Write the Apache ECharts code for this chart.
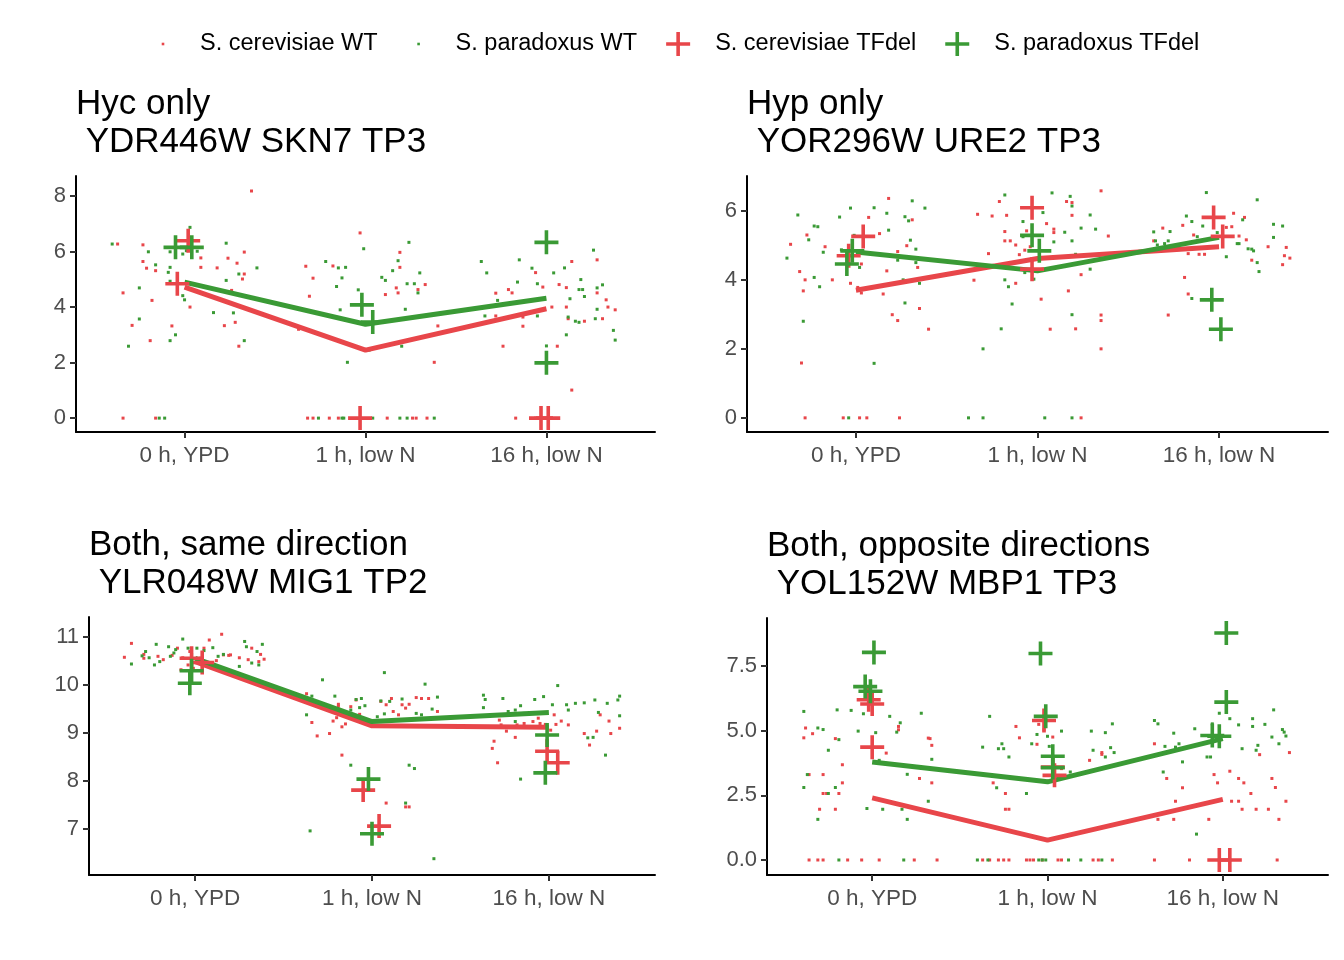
<!DOCTYPE html>
<html>
<head>
<meta charset="utf-8">
<script src="https://cdn.jsdelivr.net/npm/echarts@6/dist/echarts.min.js"></script>
<style>
html, body { margin: 0; padding: 0; background: #fff; }
#main { width: 1344px; height: 960px; }
</style>
</head>
<body>
<div id="main"></div>
<script>
var timepoints = ['0 h, YPD', '1 h, low N', '16 h, low N'];
var legendNames = ['S. cerevisiae WT', 'S. paradoxus WT', 'S. cerevisiae TFdel', 'S. paradoxus TFdel'];
var titles = ['Hyc only\n YDR446W SKN7 TP3', 'Hyp only\n YOR296W URE2 TP3',
	'Both, same direction\n YLR048W MIG1 TP2', 'Both, opposite directions\n YOL152W MBP1 TP3'];
var yTicks1 = [0, 2, 4, 6, 8];
var yTicks2 = [0, 2, 4, 6];
var yTicks3 = [7, 8, 9, 10, 11];
var yTicks4 = [0, 2.5, 5, 7.5];

// panel 1 : SKN7
var p1CerWT = [[0.63,6.27],[0.77,6.24],[1.37,8.18],[1.09,5.77],[0.77,5.64],[0.79,5.40],[0.84,5.31],[0.66,4.51],[0.82,4.24],[0.71,3.34],[0.93,3.32],[0.81,2.79],[1.03,4.00],[1.09,5.43],[1.18,5.41],[1.24,5.76],[1.29,5.58],[1.33,5.98],[1.32,5.01],[1.26,4.60],[1.22,3.33],[1.28,3.45],[1.30,2.59],[1.33,5.19],[0.66,0],[0.84,0],
	[1.67,5.47],[1.71,5.04],[1.69,4.39],[1.82,5.48],[1.97,6.67],[2.19,5.97],[2.19,5.43],[2.17,4.69],[2.18,4.51],[2.29,4.63],[2.33,4.81],[2.11,4.45],[2.38,2.01],[2.40,3.32],[1.63,3.20],[1.68,0],[1.71,0],[1.80,0],[1.85,0],[2.12,0],[2.26,0],[2.28,0],[2.34,0],
	[2.72,4.50],[2.79,4.63],[2.81,4.51],[2.87,3.64],[2.72,3.68],[2.87,3.31],[2.76,2.59],[2.94,5.24],[2.98,4.72],[3.03,4.00],[3.06,2.59],[3.07,4.81],[3.14,5.64],[3.11,4.70],[3.11,4.00],[3.12,3.58],[3.14,1.01],[3.28,5.70],[3.28,4.51],[3.21,3.49],[3.31,3.58],[3.33,4.26],[3.34,4.00],[3.38,3.90],[2.83,0],[2.94,0]];
var p1ParWT = [[0.60,6.27],[0.80,5.99],[0.92,5.99],[0.95,6.05],[0.84,5.52],[0.92,5.43],[0.91,5.25],[0.92,4.93],[0.99,5.91],[1.01,6.03],[1.07,6.01],[1.03,6.87],[1.23,6.30],[1.30,5.19],[1.40,5.41],[1.23,4.96],[0.75,4.69],[0.75,3.57],[0.69,2.59],[0.92,2.79],[0.95,3.00],[0.99,4.41],[1.00,4.26],[1.16,3.80],[1.27,3.79],[1.33,2.79],[0.89,0],[0.86,0],
	[1.78,5.64],[1.85,5.41],[1.89,5.43],[1.87,5.05],[1.84,4.74],[1.86,3.90],[1.96,4.62],[1.99,6.10],[2.02,2.45],[1.90,2.01],[2.09,5.07],[2.11,4.96],[2.15,5.31],[2.18,5.67],[2.24,6.33],[2.23,4.84],[2.27,4.84],[2.29,4.51],[2.30,5.23],[2.22,3.92],[2.20,2.59],[1.74,0],[1.87,0],[1.88,0],[2.04,0],[2.23,0],[2.19,0],[2.38,0],
	[2.64,5.64],[2.67,5.23],[2.66,3.68],[2.73,4.24],[2.85,5.70],[2.84,4.90],[2.92,5.40],[2.95,4.84],[2.95,3.68],[3.00,2.60],[3.04,5.23],[3.10,5.41],[3.11,3.00],[3.13,4.30],[3.19,4.99],[3.18,4.63],[3.20,4.63],[3.21,4.38],[3.26,6.05],[3.28,4.69],[3.31,4.80],[3.28,3.92],[3.27,3.58],[3.16,3.49],[3.18,3.45],[3.37,3.16],[3.38,2.81],[3.12,3.64]];
var p1CerDel = [[1.02,6.39],[0.96,4.84],[1.97,0],[2.97,0],[3.01,0]];
var p1ParDel = [[0.95,6.15],[1.04,6.15],[1.98,4.08],[2.04,3.46],[3.00,6.33],[3.00,1.99]];
var p1CerMean = [4.72, 2.45, 3.94];
var p1ParMean = [4.90, 3.38, 4.32];

// panel 2 : URE2
var p2CerWT = [[0.64,5.03],[0.73,5.30],[0.69,4.24],[0.71,3.68],[0.72,4.00],[0.70,1.59],[0.83,4.96],[0.87,4.00],[0.97,3.90],[1.01,3.78],[1.03,3.62],[1.03,4.46],[1.07,5.81],[1.13,5.34],[1.17,4.26],[1.18,6.36],[1.23,4.82],[1.23,2.82],[1.20,2.99],[1.31,5.74],[1.28,4.99],[1.34,4.36],[1.35,3.17],[1.40,2.57],[1.15,3.59],[0.72,0],[0.93,0],[1.02,0],[1.06,0],[1.24,0],
	[1.67,5.90],[1.75,5.85],[1.83,5.87],[1.79,6.27],[1.82,5.40],[1.82,5.13],[1.85,5.13],[1.88,5.01],[1.73,4.76],[1.65,3.99],[1.88,3.90],[1.90,4.73],[1.93,4.86],[1.94,5.42],[1.96,4.96],[2.05,5.63],[2.09,5.47],[2.09,5.37],[2.07,2.57],[2.02,3.44],[2.16,6.27],[2.19,5.87],[2.19,6.24],[2.24,4.15],[2.17,3.68],[2.21,2.58],[2.35,2.98],[2.35,2.82],[2.35,2.00],[2.35,6.58],[2.39,5.27],[2.24,0],
	[2.69,5.50],[2.72,2.98],[2.81,4.07],[2.83,3.59],[2.83,4.76],[2.86,5.30],[2.89,4.74],[2.92,4.74],[2.80,5.58],[3.04,5.52],[3.07,5.54],[3.08,5.93],[3.14,5.81],[3.11,5.27],[3.15,5.16],[3.18,4.57],[3.27,4.96],[3.37,4.94],[3.39,4.63],[3.36,4.70],[3.35,4.44],[2.64,5.13]];
var p2ParWT = [[0.62,4.63],[0.68,5.88],[0.71,2.80],[0.77,5.56],[0.79,5.54],[0.74,5.16],[0.77,4.07],[0.80,3.80],[0.82,4.80],[0.91,5.82],[0.92,4.87],[0.97,6.08],[0.99,5.29],[1.02,4.36],[1.10,6.09],[1.10,1.58],[1.17,5.93],[1.18,5.44],[1.23,4.57],[1.27,5.83],[1.31,6.29],[1.30,5.15],[1.29,5.71],[1.33,4.89],[1.38,6.08],[1.26,4.00],[1.27,3.33],[1.35,3.90],[1.33,4.50],[0.96,0],
	[1.82,6.46],[1.92,5.69],[1.92,5.25],[1.93,4.21],[1.82,4.00],[1.84,3.80],[1.86,3.30],[1.80,2.58],[1.70,2.00],[1.98,4.02],[2.03,5.95],[2.08,6.52],[2.09,5.10],[2.15,5.38],[2.18,6.42],[2.19,6.14],[2.19,5.13],[2.21,4.74],[2.24,5.50],[2.29,5.88],[2.32,5.47],[2.29,4.31],[2.19,2.99],[1.62,0],[1.70,0],[2.04,0],[2.19,0],
	[2.64,5.39],[2.65,5.13],[2.66,5.01],[2.70,5.05],[2.72,5.13],[2.73,5.40],[2.82,5.85],[2.85,5.69],[2.88,5.25],[2.91,5.56],[2.93,6.53],[2.85,3.46],[2.99,5.37],[3.04,4.67],[3.10,5.05],[3.11,5.05],[3.13,5.74],[3.16,4.90],[3.18,4.89],[3.19,4.84],[3.21,4.50],[3.21,6.32],[3.22,4.24],[3.30,5.61],[3.30,5.23],[3.35,5.56]];
var p2CerDel = [[1.04,5.26],[0.96,4.70],[1.97,6.09],[1.97,4.31],[2.97,5.81],[3.02,5.26]];
var p2ParDel = [[0.95,4.46],[0.98,4.84],[1.97,5.29],[2.01,4.84],[2.96,3.42],[3.01,2.57]];
var p2CerMean = [3.70, 4.62, 4.96];
var p2ParMean = [4.81, 4.26, 5.23];

// panel 3 : MIG1
var p3CerWT = [[0.60,10.58],[0.64,10.87],[0.71,10.64],[0.71,10.56],[0.79,10.60],[0.82,10.53],[0.87,10.62],[0.90,10.77],[0.93,10.57],[0.96,10.42],[0.97,10.70],[0.99,10.35],[1.03,10.56],[1.05,10.77],[1.08,10.94],[1.12,10.51],[1.15,11.06],[1.16,10.63],[1.19,10.62],[1.20,10.63],[1.25,10.57],[1.30,10.53],[1.32,10.77],[1.36,10.49],[1.37,10.64],[1.39,10.54],[0.92,10.32],
	[1.63,9.82],[1.66,9.22],[1.69,8.94],[1.76,8.99],[1.78,9.25],[1.80,9.32],[1.81,9.56],[1.81,9.60],[1.83,9.13],[1.85,9.19],[1.88,9.55],[1.91,9.69],[1.93,9.39],[1.83,8.54],[2.05,9.66],[2.08,9.59],[2.11,9.72],[2.12,9.45],[2.15,9.38],[2.17,9.59],[2.19,9.52],[2.21,9.60],[2.25,9.74],[2.28,9.72],[2.32,9.72],[2.37,9.45],[2.08,7.54],[2.19,7.46],[2.21,7.46],
	[2.68,9.38],[2.69,8.83],[2.68,8.68],[2.71,8.38],[2.72,9.27],[2.73,9.17],[2.76,9.04],[2.81,8.91],[2.82,9.17],[2.86,9.20],[2.91,9.24],[2.94,9.31],[2.95,9.20],[2.98,9.18],[3.01,9.06],[3.03,9.38],[3.04,9.18],[3.07,9.25],[3.11,9.17],[3.20,8.99],[3.23,8.75],[3.27,9.04],[3.29,9.38],[3.34,9.25],[3.35,8.99],[3.40,9.10]];
var p3ParWT = [[0.64,10.44],[0.70,10.61],[0.72,10.70],[0.74,10.57],[0.77,10.42],[0.80,10.49],[0.78,10.85],[0.85,10.80],[0.86,10.60],[0.88,10.67],[0.93,10.96],[0.89,10.74],[0.96,10.77],[0.98,10.64],[1.01,10.77],[1.05,10.72],[1.10,10.78],[1.13,10.60],[1.16,10.64],[1.25,10.39],[1.28,10.91],[1.29,10.80],[1.32,10.46],[1.35,10.70],[1.38,10.85],[1.36,10.42],
	[1.63,9.38],[1.66,9.77],[1.72,10.11],[1.79,9.77],[1.88,9.48],[1.91,9.70],[1.93,9.53],[1.94,9.72],[1.96,9.57],[2.03,9.34],[2.05,9.67],[2.07,10.26],[2.10,9.66],[2.07,9.40],[2.17,9.71],[2.25,9.41],[2.28,9.38],[2.30,10.02],[2.37,9.75],[2.34,9.50],[2.21,8.33],[2.24,8.26],[2.19,7.54],[1.65,6.96],[2.35,6.38],[1.88,8.33],
	[2.63,9.79],[2.64,9.70],[2.63,9.53],[2.74,9.72],[2.77,9.45],[2.81,9.48],[2.84,9.57],[2.86,9.41],[2.92,9.70],[2.97,9.76],[3.02,9.59],[3.05,9.99],[3.10,9.59],[3.11,9.48],[3.15,9.62],[3.20,9.63],[3.22,8.90],[3.25,8.91],[3.26,9.69],[3.28,9.43],[3.32,8.54],[3.33,9.62],[3.39,9.69],[3.40,9.77],[3.40,9.36],[2.84,8.04],[2.81,9.24]];
var p3CerDel = [[0.98,10.56],[1.04,10.47],[1.95,7.81],[2.04,7.06],[2.99,8.62],[3.05,8.38]];
var p3ParDel = [[0.98,10.30],[0.97,10.04],[1.98,8.04],[2.00,6.90],[2.99,8.96],[2.98,8.17]];
var p3CerMean = [10.49, 9.15, 9.12];
var p3ParMean = [10.56, 9.24, 9.43];

// panel 4 : MBP1
var p4CerWT = [[0.61,4.72],[0.62,5.10],[0.66,4.88],[0.64,3.30],[0.72,3.30],[0.72,2.57],[0.74,2.57],[0.79,1.96],[0.70,1.96],[0.79,4.69],[0.81,2.57],[0.83,3.68],[0.83,2.98],[1.08,4.13],[1.15,5.03],[1.15,5.16],[1.27,3.15],[1.32,4.71],[1.34,4.43],[1.33,4.69],[1.34,2.98],[0.64,0],[0.69,0],[0.72,0],[0.86,0],[0.94,0],[1.04,0],[1.24,0],[1.37,0],
	[1.69,2.98],[1.76,2.57],[1.76,1.96],[1.78,1.96],[1.82,5.16],[1.84,4.72],[1.95,5.24],[1.98,5.03],[1.94,4.47],[2.03,4.75],[2.08,3.53],[2.24,3.85],[2.31,4.15],[2.31,4.08],[1.63,0],[1.67,0],[1.72,0],[1.75,0],[1.78,0],[1.88,0],[1.90,0],[1.92,0],[1.97,0],[2.06,0],[2.08,0],[2.29,0],[2.37,0],[2.26,0],
	[2.61,4.49],[2.68,3.15],[2.73,2.27],[2.77,2.79],[2.63,1.57],[2.72,1.57],[2.92,1.57],[2.95,3.30],[2.97,2.98],[3.04,3.43],[3.09,3.15],[3.12,2.98],[3.16,2.57],[3.05,2.27],[3.09,2.27],[3.11,1.96],[3.19,1.96],[3.21,4.07],[3.26,1.96],[3.28,3.15],[3.30,2.80],[3.32,1.57],[3.36,2.27],[3.38,4.15],[2.61,0],[2.81,0],[3.31,0]];
var p4ParWT = [[0.61,5.74],[0.61,2.80],[0.63,3.30],[0.69,5.10],[0.72,5.04],[0.69,1.57],[0.75,4.24],[0.75,2.57],[0.79,2.80],[0.80,5.80],[0.81,4.65],[0.88,5.78],[0.92,4.98],[0.97,1.99],[0.95,5.65],[1.02,4.92],[1.06,1.96],[1.10,5.55],[1.14,4.94],[1.16,5.30],[1.17,1.96],[1.20,3.31],[1.20,1.57],[1.28,5.67],[1.32,2.27],[1.34,3.89],[1.04,3.85],[0.81,0],[1.18,0],
	[1.63,4.36],[1.67,5.55],[1.72,4.30],[1.75,4.30],[1.74,4.49],[1.71,2.79],[1.78,3.98],[1.88,2.57],[1.91,4.49],[1.94,4.85],[2.00,4.78],[2.01,4.39],[2.08,4.98],[2.13,3.40],[2.25,4.98],[2.26,4.24],[2.33,4.92],[2.37,5.26],[2.36,4.34],[2.38,4.15],[2.33,3.98],[2.31,0],[1.95,0],[1.97,0],[1.99,0],[2.12,0],[2.19,0],[1.66,0],[1.60,0],
	[2.61,5.39],[2.63,5.26],[2.66,3.40],[2.67,4.39],[2.72,4.90],[2.73,4.36],[2.75,4.49],[2.77,3.79],[2.85,1.00],[2.91,3.98],[2.93,3.98],[2.94,5.26],[2.98,5.67],[3.04,5.46],[3.09,5.22],[3.11,4.30],[3.17,5.46],[3.17,5.16],[3.19,4.24],[3.20,4.43],[3.24,5.24],[3.28,4.75],[3.29,5.80],[3.32,4.49],[3.34,5.04],[3.35,4.94],[3.36,4.79],[2.84,5.07]];
var p4CerDel = [[0.98,6.19],[1.00,6.03],[1.00,4.36],[1.98,5.39],[2.03,3.59],[2.04,3.27],[2.98,0],[3.04,0]];
var p4ParDel = [[1.01,8.02],[0.96,6.70],[0.99,6.52],[1.96,7.98],[1.99,5.55],[2.03,4.01],[2.03,3.57],[3.02,8.77],[3.02,6.10],[2.94,4.81],[2.98,4.78]];
var p4CerMean = [2.40, 0.77, 2.34];
var p4ParMean = [3.79, 3.02, 4.69];

var RED = '#E8464A';
var GREEN = '#3A9A35';
var FONT = '"Liberation Sans", Arial, Helvetica, sans-serif';
var plusPath = 'path://M10.2,0h3.6v10.2h10.2v3.6h-10.2v10.2h-3.6v-10.2h-10.2v-3.6h10.2z';
var dotIcon = 'path://M0,0M24,24M10.7,10.7h2.6v2.6h-2.6z';

var panels = [
	{cerWT: p1CerWT, parWT: p1ParWT, cerDel: p1CerDel, parDel: p1ParDel, cerMean: p1CerMean, parMean: p1ParMean, ticks: yTicks1, ymin: -0.5, ymax: 8.72, grid: {left: 76, top: 176, width: 579, height: 256}},
	{cerWT: p2CerWT, parWT: p2ParWT, cerDel: p2CerDel, parDel: p2ParDel, cerMean: p2CerMean, parMean: p2ParMean, ticks: yTicks2, ymin: -0.41, ymax: 7.01, grid: {left: 747, top: 176, width: 581, height: 256}},
	{cerWT: p3CerWT, parWT: p3ParWT, cerDel: p3CerDel, parDel: p3ParDel, cerMean: p3CerMean, parMean: p3ParMean, ticks: yTicks3, ymin: 6.04, ymax: 11.42, grid: {left: 89, top: 617, width: 566, height: 258}},
	{cerWT: p4CerWT, parWT: p4ParWT, cerDel: p4CerDel, parDel: p4ParDel, cerMean: p4CerMean, parMean: p4ParMean, ticks: yTicks4, ymin: -0.58, ymax: 9.35, grid: {left: 767, top: 618, width: 561, height: 257}, fixed: 1}
];

function meanLine(vals) {
	var out = [];
	for (var i = 0; i < vals.length; i++) {
		out.push([i + 1, vals[i]]);
	}
	return out;
}

var option = {
	backgroundColor: '#fff',
	animation: false,
	textStyle: {fontFamily: FONT},
	title: [],
	legend: {
		top: 27,
		left: 146,
		itemWidth: 24,
		itemHeight: 24,
		itemGap: 29,
		textStyle: {fontSize: 23.5, color: '#000', fontFamily: FONT, padding: [0, 0, 0, 20]},
		data: [
			{name: legendNames[0], icon: dotIcon, itemStyle: {color: RED, opacity: 1}},
			{name: legendNames[1], icon: dotIcon, itemStyle: {color: GREEN, opacity: 1}},
			{name: legendNames[2], icon: plusPath, itemStyle: {color: RED, opacity: 1}},
			{name: legendNames[3], icon: plusPath, itemStyle: {color: GREEN, opacity: 1}}
		]
	},
	grid: [],
	xAxis: [],
	yAxis: [],
	series: []
};

panels.forEach(function(p, k) {
	option.grid.push(p.grid);
	option.title.push({
		text: titles[k],
		left: p.grid.left,
		top: p.grid.top - 91,
		padding: 0,
		textStyle: {fontSize: 35, fontWeight: 'normal', color: '#000', lineHeight: 38, fontFamily: FONT}
	});
	option.xAxis.push({
		type: 'value',
		gridIndex: k,
		min: 0.4,
		max: 3.6,
		splitLine: {show: false},
		axisLine: {onZero: false, lineStyle: {color: '#000', width: 2}},
		axisTick: {customValues: [1, 2, 3], length: 6, lineStyle: {color: '#333', width: 2}},
		axisLabel: {
			customValues: [1, 2, 3],
			margin: 12,
			fontSize: 22.5,
			color: '#4d4d4d',
			fontFamily: FONT,
			formatter: function(v) { return timepoints[Math.round(v) - 1]; }
		}
	});
	option.yAxis.push({
		type: 'value',
		gridIndex: k,
		min: p.ymin,
		max: p.ymax,
		splitLine: {show: false},
		axisLine: {onZero: false, lineStyle: {color: '#000', width: 2}},
		axisTick: {customValues: p.ticks, length: 6, lineStyle: {color: '#333', width: 2}},
		axisLabel: {
			customValues: p.ticks,
			margin: 10,
			fontSize: 22,
			color: '#4d4d4d',
			fontFamily: FONT,
			formatter: function(v) { return p.fixed ? v.toFixed(p.fixed) : String(v); }
		}
	});
	option.series.push(
		{name: legendNames[0], type: 'scatter', xAxisIndex: k, yAxisIndex: k, data: p.cerWT,
			symbol: 'rect', symbolSize: 3, itemStyle: {color: RED, opacity: 1}, z: 1},
		{name: legendNames[1], type: 'scatter', xAxisIndex: k, yAxisIndex: k, data: p.parWT,
			symbol: 'rect', symbolSize: 3, itemStyle: {color: GREEN, opacity: 1}, z: 1},
		{name: 'cer mean', type: 'line', xAxisIndex: k, yAxisIndex: k, data: meanLine(p.cerMean),
			showSymbol: false, lineStyle: {color: RED, width: 5}, itemStyle: {color: RED}, z: 2},
		{name: 'par mean', type: 'line', xAxisIndex: k, yAxisIndex: k, data: meanLine(p.parMean),
			showSymbol: false, lineStyle: {color: GREEN, width: 5}, itemStyle: {color: GREEN}, z: 2},
		{name: legendNames[2], type: 'scatter', xAxisIndex: k, yAxisIndex: k, data: p.cerDel,
			symbol: plusPath, symbolSize: 24, itemStyle: {color: RED, opacity: 1}, z: 3},
		{name: legendNames[3], type: 'scatter', xAxisIndex: k, yAxisIndex: k, data: p.parDel,
			symbol: plusPath, symbolSize: 24, itemStyle: {color: GREEN, opacity: 1}, z: 3}
	);
});

var myChart = echarts.init(document.getElementById('main'));
myChart.setOption(option);
window.addEventListener('resize', function() {
	myChart.resize();
});
</script>
</body>
</html>
